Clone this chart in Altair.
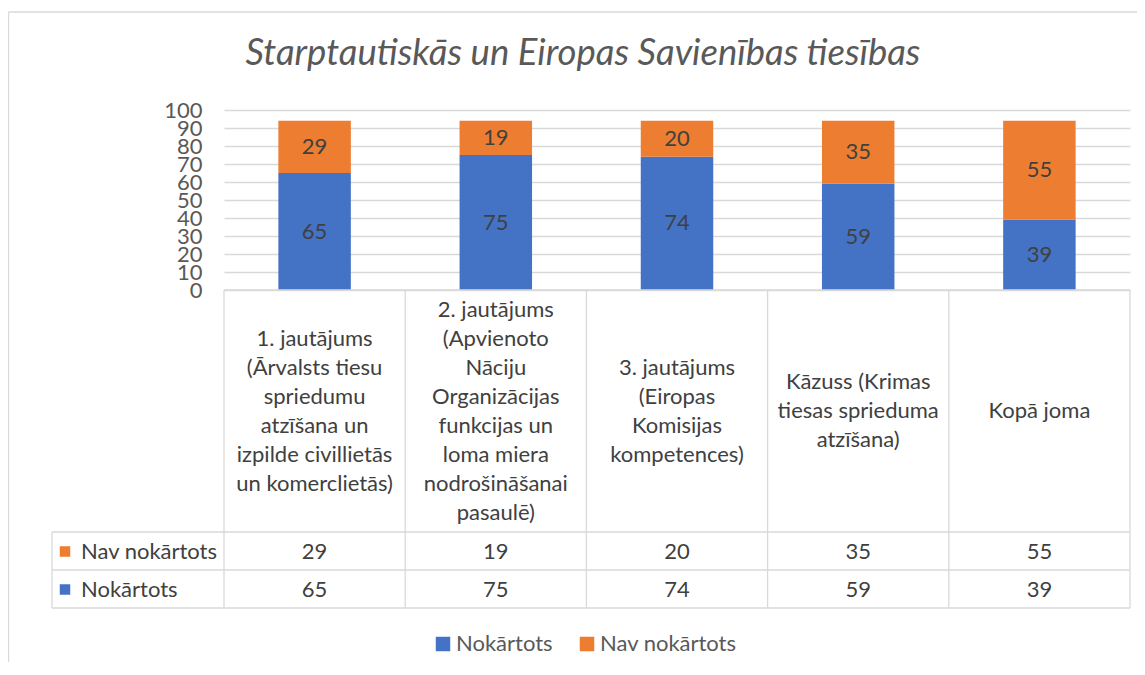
import altair as alt
import pandas as pd

# ---- data -------------------------------------------------------------
title_text = "Starptautiskās un Eiropas Savienības tiesības"
categories = [
    ["1. jautājums", "(Ārvalsts tiesu", "spriedumu", "atzīšana un", "izpilde civillietās", "un komerclietās)"],
    ["2. jautājums", "(Apvienoto", "Nāciju", "Organizācijas", "funkcijas un", "loma miera", "nodrošināšanai", "pasaulē)"],
    ["3. jautājums", "(Eiropas", "Komisijas", "kompetences)"],
    ["Kāzuss (Krimas", "tiesas sprieduma", "atzīšana)"],
    ["Kopā joma"],
]
passed = [65, 75, 74, 59, 39]
failed = [29, 19, 20, 35, 55]
series = ["Nokārtots", "Nav nokārtots"]
colors = ["#4472C4", "#ED7D31"]
y_ticks = list(range(0, 101, 10))

# ---- tables built from the arrays ---------------------------------------
rows = []
for i in range(len(categories)):
    rows.append({"idx": i, "series": series[0], "order": 0, "value": passed[i]})
    rows.append({"idx": i, "series": series[1], "order": 1, "value": failed[i]})
long_df = pd.DataFrame(rows)
bound_df = pd.DataFrame({"b": list(range(len(categories) + 1))})

FONT = "Lato"
FS = 22
LH = 29
GRID = "#D9D9D9"
TXT = "#404040"
AX = "#595959"

xs = alt.Scale(domain=[0, len(categories)], nice=False, zero=False)
ys = alt.Scale(domain=[0, 100], nice=False)
cs = alt.Scale(domain=series, range=colors)

y_axis = alt.Axis(
    values=y_ticks, grid=True, gridColor=GRID, gridWidth=1.3, domain=False,
    ticks=False, labelPadding=22, labelFontSize=FS, labelFont=FONT,
    labelColor=AX, labelOverlap=False, labelFlush=False, title=None)

legend = alt.Legend(
    orient="none", legendX=208, legendY=523, direction="horizontal",
    title=None, symbolType="square", symbolSize=210, symbolStrokeWidth=0,
    labelFontSize=FS, labelFont=FONT, labelColor=AX, columnPadding=23,
    labelOffset=2, padding=0,
)

stacked = (
    alt.Chart(long_df)
    .transform_stack(stack="value", groupby=["idx"], as_=["v0", "v1"],
                     sort=[alt.SortField("order", order="ascending")])
    .transform_calculate(x0="datum.idx + 0.3", x1="datum.idx + 0.7",
                         xc="datum.idx + 0.5", mid="(datum.v0 + datum.v1) / 2")
)

bars = stacked.mark_bar().encode(
    x=alt.X("x0:Q", scale=xs, axis=None),
    x2="x1:Q",
    y=alt.Y("v0:Q", scale=ys, axis=y_axis),
    y2="v1:Q",
    color=alt.Color("series:N", scale=cs, legend=legend),
)

bar_labels = stacked.mark_text(font=FONT, fontSize=FS, color=TXT, baseline="middle").encode(
    x=alt.X("xc:Q", scale=xs, axis=None), y=alt.Y("mid:Q", scale=ys, axis=y_axis), text="value:Q"
)

def rule(x, x2, y, y2):
    return alt.Chart(alt.Data(values=[{}])).mark_rule(color=GRID, strokeWidth=1.3).encode(
        x=alt.value(x), x2=alt.value(x2), y=alt.value(y), y2=alt.value(y2))

# table grid
vlines = alt.Chart(bound_df).mark_rule(color=GRID, strokeWidth=1.3).encode(
    x=alt.X("b:Q", scale=xs, axis=None), y=alt.value(180), y2=alt.value(498))
hlines = [
    rule(0, 906, 180, 180),
    rule(-172, 906, 422, 422),
    rule(-172, 906, 460, 460),
    rule(-172, 906, 498, 498),
    rule(-172, -172, 422, 498),
]
# chart frame
frame = [rule(-215.5, 913, -98, -98), rule(-215.5, -215.5, -98, 552)]

# header cells: multi-line category labels, vertically centred in the cell
header = []
for i, lines in enumerate(categories):
    header.append(
        alt.Chart(pd.DataFrame({"idx": [i], "lines": [lines]}))
        .transform_calculate(xc="datum.idx + 0.5")
        .mark_text(font=FONT, fontSize=FS, color=TXT, baseline="middle", lineHeight=LH)
        .encode(x=alt.X("xc:Q", scale=xs, axis=None),
                y=alt.value(301 - (len(lines) - 1) * LH / 2), text="lines")
    )

row_y = {series[1]: 441.5, series[0]: 479.5}
table_rows = []
for k, s in enumerate(series):
    table_rows.append(
        alt.Chart(long_df).transform_filter(alt.datum.series == s)
        .transform_calculate(xc="datum.idx + 0.5")
        .mark_text(font=FONT, fontSize=FS, color=TXT, baseline="middle")
        .encode(x=alt.X("xc:Q", scale=xs, axis=None), y=alt.value(row_y[s]), text="value:Q")
    )
    table_rows.append(
        alt.Chart(alt.Data(values=[{}])).mark_square(size=110, opacity=1, color=colors[k])
        .encode(x=alt.value(-159), y=alt.value(row_y[s]))
    )
    table_rows.append(
        alt.Chart(alt.Data(values=[{}])).mark_text(
            text=s, font=FONT, fontSize=FS, color=TXT, align="left", baseline="middle")
        .encode(x=alt.value(-143), y=alt.value(row_y[s]))
    )

title = alt.Chart(alt.Data(values=[{}])).mark_text(
    text=title_text, font=FONT, fontSize=36.5, fontStyle="italic", color=AX,
    align="center", baseline="alphabetic"
).encode(x=alt.value(359), y=alt.value(-45))

chart = alt.layer(
    *frame, bars, bar_labels, vlines, *hlines, *header, *table_rows, title
).properties(
    width=906, height=180,
    autosize=alt.AutoSizeParams(type="none"),
    padding={"left": 216, "top": 102, "right": 7, "bottom": 372},
).configure_view(strokeWidth=0)

chart.save("out.html", embed_options={"renderer": "svg", "actions": False})
